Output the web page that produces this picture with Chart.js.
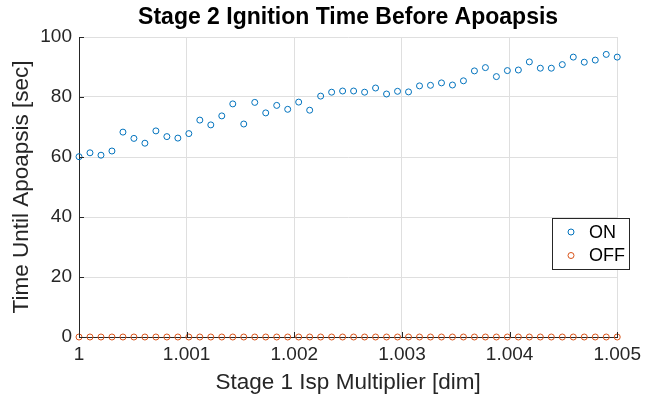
<!DOCTYPE html>
<html>
<head>
<meta charset="utf-8">
<script src="https://cdn.jsdelivr.net/npm/chart.js@4.4.1/dist/chart.umd.min.js"></script>
<style>
    html, body { margin: 0; padding: 0; background: #fff; }
    #wrap { width: 647px; height: 400px; }
</style>
</head>
<body>
<div id="wrap"><canvas id="graphic"></canvas></div>
<script>
// Stage 1 Isp multiplier (50 samples)
const isp_mult = [
    1.0000000, 1.0001020, 1.0002041, 1.0003061, 1.0004082, 1.0005102, 1.0006122, 1.0007143, 1.0008163, 1.0009184,
    1.0010204, 1.0011224, 1.0012245, 1.0013265, 1.0014286, 1.0015306, 1.0016327, 1.0017347, 1.0018367, 1.0019388,
    1.0020408, 1.0021429, 1.0022449, 1.0023469, 1.0024490, 1.0025510, 1.0026531, 1.0027551, 1.0028571, 1.0029592,
    1.0030612, 1.0031633, 1.0032653, 1.0033673, 1.0034694, 1.0035714, 1.0036735, 1.0037755, 1.0038776, 1.0039796,
    1.0040816, 1.0041837, 1.0042857, 1.0043878, 1.0044898, 1.0045918, 1.0046939, 1.0047959, 1.0048980, 1.0050000
];
// time until apoapsis [sec]
const time_on = [
    60.1, 61.4, 60.6, 62.0, 68.3, 66.2, 64.6, 68.7, 66.8, 66.3,
    67.8, 72.3, 70.7, 73.7, 77.7, 71.0, 78.2, 74.7, 77.2, 75.9,
    78.3, 75.6, 80.3, 81.6, 82.0, 82.0, 81.6, 83.0, 81.0, 81.9,
    81.7, 83.7, 83.9, 84.7, 84.0, 85.4, 88.7, 89.8, 86.8, 88.8,
    89.0, 91.7, 89.6, 89.6, 90.8, 93.3, 91.6, 92.3, 94.2, 93.3
];
const time_off = [
    0, 0, 0, 0, 0, 0, 0, 0, 0, 0,
    0, 0, 0, 0, 0, 0, 0, 0, 0, 0,
    0, 0, 0, 0, 0, 0, 0, 0, 0, 0,
    0, 0, 0, 0, 0, 0, 0, 0, 0, 0,
    0, 0, 0, 0, 0, 0, 0, 0, 0, 0
];
const series_names = ['ON', 'OFF'];
const x_ticks = [1, 1.001, 1.002, 1.003, 1.004, 1.005];
const x_tick_labels = ['1', '1.001', '1.002', '1.003', '1.004', '1.005'];
const y_ticks = [0, 20, 40, 60, 80, 100];

const FONT = "'Liberation Sans', Arial, Helvetica, sans-serif";
const AXIS = '#262626';
const GRID = '#dfdfdf';

// title centred over the plot area, like MATLAB
const titlePlugin = {
    id: 'matTitle',
    afterDraw(chart) {
        const {ctx, chartArea} = chart;
        ctx.save();
        ctx.font = 'bold 23px ' + FONT;
        ctx.fillStyle = '#000';
        ctx.textAlign = 'center';
        ctx.textBaseline = 'middle';
        ctx.fillText('Stage 2 Ignition Time Before Apoapsis', (chartArea.left + chartArea.right) / 2, 18);
        ctx.restore();
    }
};

// inward tick marks + legend box
const axesPlugin = {
    id: 'matAxes',
    afterDraw(chart) {
        const {ctx, chartArea, scales} = chart;
        ctx.save();
        ctx.strokeStyle = AXIS;
        ctx.lineWidth = 1;
        ctx.beginPath();
        x_ticks.forEach(v => {
            const px = Math.round(scales.x.getPixelForValue(v)) + 0.5;
            ctx.moveTo(px, chartArea.bottom);
            ctx.lineTo(px, chartArea.bottom - 5);
        });
        y_ticks.forEach(v => {
            const py = Math.round(scales.y.getPixelForValue(v)) + 0.5;
            ctx.moveTo(chartArea.left, py);
            ctx.lineTo(chartArea.left + 5, py);
        });
        ctx.stroke();

        // legend
        const bx = 552.5, by = 218.5, bw = 77, bh = 51;
        ctx.fillStyle = '#fff';
        ctx.fillRect(bx, by, bw, bh);
        ctx.strokeStyle = '#262626';
        ctx.lineWidth = 1;
        ctx.strokeRect(bx, by, bw, bh);
        ctx.font = '18px ' + FONT;
        ctx.textBaseline = 'middle';
        ctx.textAlign = 'left';
        chart.data.datasets.forEach((ds, i) => {
            const cy = 232 + i * 23.5;
            ctx.beginPath();
            ctx.arc(571, cy, 3, 0, Math.PI * 2);
            ctx.strokeStyle = ds.borderColor;
            ctx.stroke();
            ctx.fillStyle = '#000';
            ctx.fillText(ds.label, 589, cy + 1);
        });
        ctx.restore();
    }
};

const ctx = document.getElementById('graphic');

new Chart(ctx, {
    type: 'scatter',
    data: {
        datasets: [{
            label: series_names[0],
            data: isp_mult.map((x, i) => ({x: x, y: time_on[i]})),
            borderColor: '#0072BD',
            backgroundColor: 'rgba(0,0,0,0)',
            pointRadius: 3,
            pointBorderWidth: 1,
            clip: false
        }, {
            label: series_names[1],
            data: isp_mult.map((x, i) => ({x: x, y: time_off[i]})),
            borderColor: '#D95319',
            backgroundColor: 'rgba(0,0,0,0)',
            pointRadius: 3,
            pointBorderWidth: 1,
            clip: false
        }]
    },
    options: {
        responsive: true,
        maintainAspectRatio: false,
        animation: false,
        layout: {padding: {top: 37, right: 28.4, left: 0, bottom: 0}},
        scales: {
            x: {
                type: 'linear',
                min: 1,
                max: 1.005,
                afterBuildTicks: scale => { scale.ticks = x_ticks.map(v => ({value: v})); },
                afterFit: scale => { scale.height = 63; },
                ticks: {
                    color: AXIS,
                    font: {family: FONT, size: 19},
                    padding: 6,
                    maxRotation: 0,
                    callback: (value) => x_tick_labels[x_ticks.indexOf(value)]
                },
                grid: {color: GRID, drawTicks: false},
                border: {color: AXIS, width: 1},
                title: {
                    display: true,
                    text: 'Stage 1 Isp Multiplier [dim]',
                    color: AXIS,
                    font: {family: FONT, size: 22.5},
                    padding: {top: 0, bottom: 4}
                }
            },
            y: {
                min: 0,
                max: 100,
                afterBuildTicks: scale => { scale.ticks = y_ticks.map(v => ({value: v})); },
                afterFit: scale => { scale.width = 79; },
                ticks: {
                    color: AXIS,
                    font: {family: FONT, size: 19},
                    padding: 7
                },
                grid: {color: GRID, drawTicks: false},
                border: {color: AXIS, width: 1},
                title: {
                    display: true,
                    text: 'Time Until Apoapsis [sec]',
                    color: AXIS,
                    font: {family: FONT, size: 22.5},
                    padding: {top: 8, bottom: 0}
                }
            }
        },
        plugins: {
            legend: {display: false},
            title: {display: false},
            tooltip: {enabled: false}
        }
    },
    plugins: [titlePlugin, axesPlugin]
});
</script>
</body>
</html>
